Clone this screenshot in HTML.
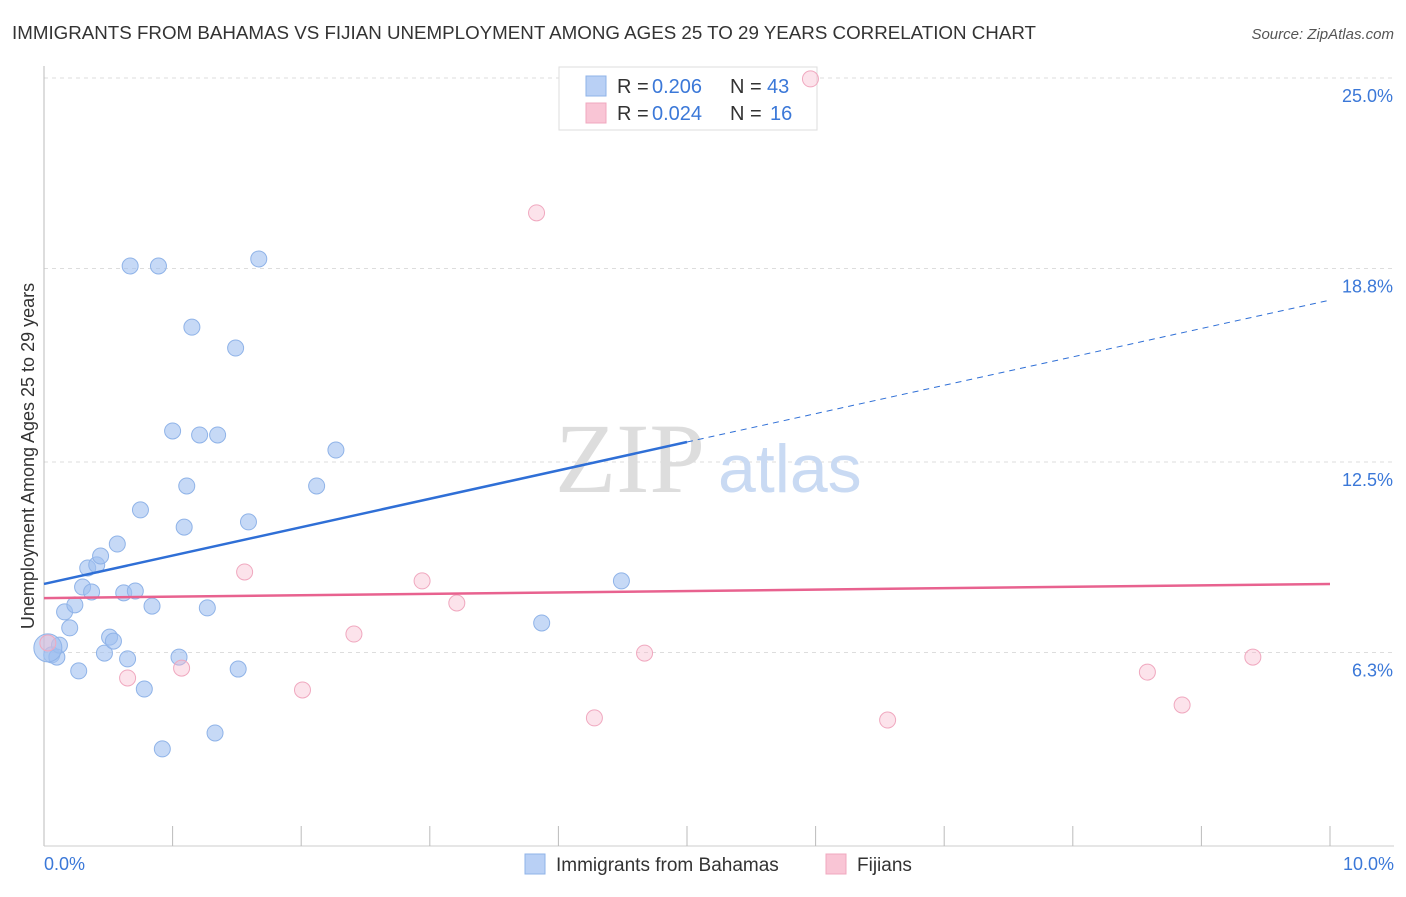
<!DOCTYPE html>
<html><head><meta charset="utf-8"><style>
body{margin:0;background:#fff;font-family:"Liberation Sans",sans-serif}
</style></head><body>
<svg width="1406" height="892" xmlns="http://www.w3.org/2000/svg">
<text x="12" y="39" font-size="18" fill="#333" textLength="1024" lengthAdjust="spacingAndGlyphs">IMMIGRANTS FROM BAHAMAS VS FIJIAN UNEMPLOYMENT AMONG AGES 25 TO 29 YEARS CORRELATION CHART</text>
<text x="1394" y="39" font-size="15" fill="#555" font-style="italic" text-anchor="end">Source: ZipAtlas.com</text>
<text x="0" y="0" transform="translate(34,456) rotate(-90)" font-size="18" fill="#333" text-anchor="middle">Unemployment Among Ages 25 to 29 years</text>
<g id="grid"></g>
<text x="555" y="492" font-size="100" fill="#ddd" font-family="Liberation Serif">ZIP</text>
<text x="718" y="492" font-size="68" fill="#c9daf3">atlas</text>
<g>
<rect x="559" y="67" width="258" height="63" fill="#fff" stroke="#ddd"/>
<rect x="586" y="76" width="20" height="20" fill="#b9d0f5" stroke="#8fb3e8"/>
<rect x="586" y="103" width="20" height="20" fill="#f9c5d5" stroke="#f0a8bf"/>
<text x="617" y="93" font-size="20" fill="#333">R =</text>
<text x="652" y="93" font-size="20" fill="#3b78d8">0.206</text>
<text x="730" y="93" font-size="20" fill="#333">N =</text>
<text x="767" y="93" font-size="20" fill="#3b78d8">43</text>
<text x="617" y="120" font-size="20" fill="#333">R =</text>
<text x="652" y="120" font-size="20" fill="#3b78d8">0.024</text>
<text x="730" y="120" font-size="20" fill="#333">N =</text>
<text x="770" y="120" font-size="20" fill="#3b78d8">16</text>
</g>
<g id="marks"></g>
<g>
<rect x="525" y="854" width="20" height="20" fill="#b9d0f5" stroke="#8fb3e8"/>
<text x="556" y="871" font-size="19" fill="#333">Immigrants from Bahamas</text>
<rect x="826" y="854" width="20" height="20" fill="#f9c5d5" stroke="#f0a8bf"/>
<text x="857" y="871" font-size="19" fill="#333">Fijians</text>
</g>
</svg>
<script>
const yTicks=[25.0,18.8,12.5,6.3];
const xTickLabels=["0.0%","10.0%"];
const blueX=[0.06,0.10,0.12,0.16,0.20,0.24,0.27,0.30,0.34,0.37,0.41,0.44,0.47,0.51,0.54,0.57,0.62,0.65,0.67,0.71,0.75,0.78,0.84,0.89,0.92,1.00,1.05,1.09,1.11,1.15,1.21,1.27,1.33,1.35,1.49,1.51,1.59,1.67,2.12,2.27,3.87,4.49,0.03];
const blueY=[6.22,6.15,6.54,7.62,7.10,7.85,5.70,8.43,9.05,8.27,9.15,9.44,6.28,6.80,6.67,9.83,8.24,6.09,18.88,8.30,10.94,5.11,7.81,18.88,3.16,13.51,6.15,10.38,11.72,16.89,13.38,7.75,3.68,13.38,16.21,5.76,10.55,19.11,11.72,12.89,7.26,8.63,6.45];
const pinkX=[0.03,0.65,1.07,1.56,2.01,2.41,2.94,3.21,3.83,4.28,4.67,5.96,6.56,8.58,8.85,9.40];
const pinkY=[6.61,5.47,5.79,8.92,5.08,6.90,8.63,7.91,20.61,4.17,6.28,24.97,4.10,5.66,4.59,6.15];
const blueTrend=[8.53,17.77];
const pinkTrend=[8.07,8.53];
const NS="http://www.w3.org/2000/svg";
const X=v=>44+v*128.6, Y=v=>846-v*30.72;
function mk(t,a,p){const e=document.createElementNS(NS,t);for(const k in a)e.setAttribute(k,a[k]);p.appendChild(e);return e;}
const g=document.getElementById('grid'),m=document.getElementById('marks');
yTicks.forEach(t=>{
 const l=mk('line',{x1:44,x2:1394,y1:Y(t),y2:Y(t),stroke:'#ddd','stroke-dasharray':'4,4'},g);
 
 
 const tx=mk('text',{x:1393,y:Y(t)+24,'font-size':18,fill:'#3b78d8','text-anchor':'end'},g);
 tx.textContent=t.toFixed(1)+'%';
 
 
});
const ax=mk('line',{x1:44,x2:44,y1:66,y2:846,stroke:'#bbb'},g);


const bx=mk('line',{x1:44,x2:1394,y1:846,y2:846,stroke:'#ccc'},g);


for(let i=1;i<=10;i++){const t=mk('line',{x1:X(i),x2:X(i),y1:826,y2:846,stroke:'#bbb'},g);
 
 }
[[0,'start',44],[10,'end',1394]].forEach((d,i)=>{const t=mk('text',{x:d[2],y:870,'font-size':18,fill:'#3b78d8','text-anchor':d[1]},g);t.textContent=xTickLabels[i];
 
 });
blueX.forEach((x,i)=>{const c=mk('circle',{cx:X(x),cy:Y(blueY[i]),r:i==42?14:8,fill:'rgba(160,192,240,0.6)',stroke:'#8fb3e8'},m);
 
 });
pinkX.forEach((x,i)=>{const c=mk('circle',{cx:X(x),cy:Y(pinkY[i]),r:8,fill:'rgba(248,185,205,0.4)',stroke:'#f0a8bf'},m);
 
 });
const by=x=>blueTrend[0]+(blueTrend[1]-blueTrend[0])*x/10;
const l1=mk('line',{x1:X(0),y1:Y(by(0)),x2:X(5),y2:Y(by(5)),stroke:'#2f6fd6','stroke-width':2.5},m);


const l2=mk('line',{x1:X(5),y1:Y(by(5)),x2:X(10),y2:Y(by(10)),stroke:'#2f6fd6','stroke-width':1,'stroke-dasharray':'6,5'},m);


const l3=mk('line',{x1:X(0),y1:Y(pinkTrend[0]),x2:X(10),y2:Y(pinkTrend[1]),stroke:'#e8628f','stroke-width':2.5},m);


</script>
</body></html>
